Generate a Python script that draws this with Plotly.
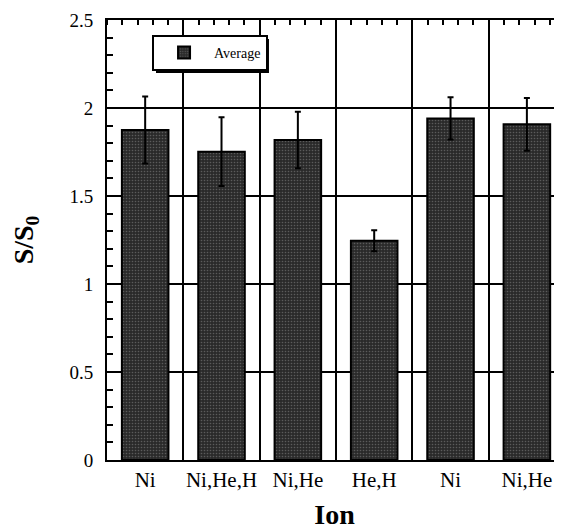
import plotly.graph_objects as go

ions = ["Ni", "Ni,He,H", "Ni,He", "He,H", "Ni", "Ni,He"]
averages = [1.875, 1.752, 1.818, 1.246, 1.941, 1.907]
errors = [0.19, 0.195, 0.16, 0.06, 0.12, 0.15]
positions = list(range(len(ions)))
boundaries = [p + 0.5 for p in positions[:-1]]

FONT = "Liberation Serif"

fig = go.Figure()
fig.add_trace(go.Bar(
    x=positions, y=averages, name="Average", width=0.61,
    marker=dict(color="#2a2a2a", line=dict(color="black", width=2),
                pattern=dict(shape=".", bgcolor="#2a2a2a", fgcolor="#8c8c8c",
                             size=3, solidity=0.22, fillmode="overlay")),
    error_y=dict(type="data", array=errors, color="black", thickness=2, width=3),
    showlegend=True,
))
# invisible helper trace for the top axis (category boundaries + minor ticks)
fig.add_trace(go.Scatter(x=positions, y=averages, xaxis="x2", mode="markers",
                         marker=dict(opacity=0), showlegend=False, hoverinfo="skip"))

xrange = [-0.5, 5.46]
fig.update_layout(
    width=554, height=522,
    margin=dict(l=99, r=0, t=12, b=70),
    paper_bgcolor="white", plot_bgcolor="white",
    font=dict(family=FONT, color="black"),
    xaxis=dict(range=xrange, tickmode="array", tickvals=positions, ticktext=ions,
               showgrid=False, zeroline=False, ticks="", automargin=False,
               showline=True, linecolor="black", linewidth=2, mirror=True,
               tickfont=dict(family=FONT, size=21), ticklabelstandoff=0,
               title=dict(text="<b>Ion</b>", font=dict(family=FONT, size=28), standoff=14)),
    xaxis2=dict(range=xrange, overlaying="x", side="top", showticklabels=False,
                tickmode="array", tickvals=boundaries, ticks="", automargin=False,
                showgrid=True, gridcolor="black", gridwidth=1.5, zeroline=False,
                minor=dict(tickmode="linear", tick0=-0.5, dtick=0.2, ticks="inside",
                           ticklen=5, tickcolor="black", tickwidth=1.5, showgrid=False)),
    yaxis=dict(range=[0, 2.5], tickmode="linear", tick0=0, dtick=0.5,
               tickformat="~g", showgrid=True, gridcolor="black", gridwidth=1.5,
               zeroline=False, ticks="", showline=True, linecolor="black", linewidth=2,
               mirror=False, automargin=False,
               minor=dict(tickmode="linear", tick0=0, dtick=0.1, ticks="inside",
                          ticklen=6, tickcolor="black", tickwidth=1.5, showgrid=False),
               tickfont=dict(family=FONT, size=19), ticklabelstandoff=8,
               title=dict(text="<b>S/S<sub>0</sub></b>", font=dict(family=FONT, size=28),
                          standoff=30)),
    legend=dict(x=0.099, y=0.966, xanchor="left", yanchor="top",
                bgcolor="white", bordercolor="black", borderwidth=2,
                itemwidth=50, font=dict(family=FONT, size=14)),
    shapes=[dict(type="rect", xref="paper", yref="paper",
                 x0=0.1077, x1=0.356, y0=0.8795, y1=0.957,
                 fillcolor="black", line=dict(width=0), layer="above")],
    bargap=0.39,
)

fig.write_html("out.html")
